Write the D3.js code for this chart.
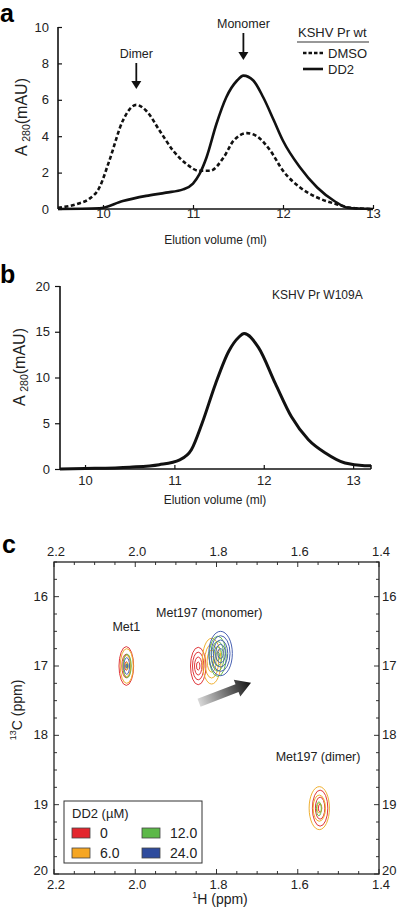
<!DOCTYPE html>
<html><head><meta charset="utf-8">
<script src="https://cdn.jsdelivr.net/npm/d3@7"></script>
<style>
html,body{margin:0;padding:0;background:#fff;}
svg{display:block;font-family:"Liberation Sans",Arial,sans-serif;}
</style></head>
<body>
<svg id="fig" width="400" height="911"></svg>
<script>
// ---------- Panel a data ----------
const volDMSO = [9.5, 9.73, 9.84, 9.96, 10.07, 10.22, 10.37, 10.48, 10.63, 10.78, 10.93, 11.07, 11.19, 11.34, 11.45, 11.6, 11.71, 11.86, 12.0, 12.19, 12.38, 12.57, 12.75, 13.0];
const absDMSO = [0.07, 0.3, 0.53, 1.18, 2.65, 4.85, 5.72, 5.4, 4.3, 3.2, 2.46, 2.1, 2.1, 2.83, 3.75, 4.17, 4.0, 3.2, 2.1, 1.18, 0.63, 0.3, 0.07, 0];
const volDD2 = [9.5, 9.96, 10.22, 10.48, 10.7, 10.89, 11.0, 11.07, 11.15, 11.26, 11.37, 11.49, 11.56, 11.67, 11.78, 11.9, 12.0, 12.19, 12.38, 12.57, 12.72, 13.0];
const absDD2 = [0, 0.04, 0.44, 0.72, 0.9, 1.08, 1.4, 1.9, 2.83, 4.67, 6.14, 7.06, 7.33, 7.06, 6.14, 4.85, 3.75, 2.28, 1.18, 0.44, 0.07, 0];
const xTicksA = [10, 11, 12, 13];
const yTicksA = [0, 2, 4, 6, 8, 10];
const legendA = ["DMSO", "DD2"];

// ---------- Panel b data ----------
const volW109A = [9.72, 10.0, 10.5, 10.83, 11.06, 11.19, 11.31, 11.46, 11.61, 11.72, 11.78, 11.94, 12.13, 12.31, 12.5, 12.69, 12.91, 13.13, 13.2];
const absW109A = [0, 0.05, 0.2, 0.47, 1.0, 2.1, 5.0, 9.3, 12.9, 14.4, 14.8, 13.3, 9.33, 5.7, 3.2, 1.75, 0.65, 0.36, 0.35];
const xTicksB = [10, 11, 12, 13];
const yTicksB = [0, 5, 10, 15, 20];

// ---------- Panel c data ----------
const concentrations = ["0", "6.0", "12.0", "24.0"];
const concColors = ["#e3262d", "#f5a623", "#5cb848", "#2e4b9d"];
const contourColors = ["#e0383c", "#f0b030", "#6cbd4f", "#4a63b3"];
const peakConcIdx = [0, 1, 2, 3, 0, 1, 2, 3, 0, 1, 2];
const peakH = [2.022, 2.021, 2.020, 2.021, 1.845, 1.812, 1.797, 1.790, 1.545, 1.547, 1.548];
const peakC = [17.0, 17.0, 17.0, 17.0, 17.0, 16.93, 16.86, 16.82, 19.05, 19.05, 19.06];
const peakWH = [0.018, 0.016, 0.010, 0.007, 0.019, 0.023, 0.021, 0.029, 0.019, 0.025, 0.006];
const peakWC = [0.28, 0.25, 0.17, 0.12, 0.27, 0.33, 0.29, 0.32, 0.26, 0.31, 0.10];
const peakLevels = [3, 3, 2, 2, 4, 4, 4, 5, 3, 3, 1];
const peakLabels = ["Met1", "Met197 (monomer)", "Met197 (dimer)"];
const peakLabelH = [2.022, 1.818, 1.55];
const peakLabelC = [16.5, 16.29, 18.37];
const arrowFrom = [1.843, 17.53];
const arrowTo = [1.715, 17.24];
const xTicksC = [2.2, 2.0, 1.8, 1.6, 1.4];
const yTicksC = [16, 17, 18, 19, 20];

const svg = d3.select("#fig");
const FONT = 13;

function panelLabel(t, x, y) {
  svg.append("text").attr("x", x).attr("y", y).attr("font-size", 25)
    .attr("font-weight", "bold").text(t);
}
function yTitle(x, y) {
  const t = svg.append("text").attr("transform", `translate(${x},${y}) rotate(-90)`)
    .attr("text-anchor", "middle").attr("font-size", 16).attr("fill", "#222");
  t.append("tspan").text("A ");
  t.append("tspan").attr("font-size", 10.5).attr("dy", 3).text("280");
  t.append("tspan").attr("dy", -3).text("(mAU)");
}
function styleAxes(gs) {
  gs.forEach(g => {
    g.select(".domain").attr("stroke-width", 1.6).attr("stroke", "#111");
    g.selectAll(".tick line").attr("stroke-width", 1.2).attr("stroke", "#111");
    g.selectAll("text").attr("font-size", FONT).attr("font-family", "Liberation Sans, Arial").attr("fill", "#222");
  });
}

// =============== Panel a ===============
{
  const x = d3.scaleLinear().domain([9.5, 13]).range([58, 373]);
  const y = d3.scaleLinear().domain([0, 10]).range([209, 27]);
  const gx = svg.append("g").attr("transform", "translate(0,209)")
    .call(d3.axisBottom(x).tickValues(xTicksA).tickSize(-4).tickPadding(0).tickFormat(d3.format("d")));
  const gy = svg.append("g").attr("transform", "translate(58,0)")
    .call(d3.axisLeft(y).tickValues(yTicksA).tickSize(-4).tickPadding(9).tickFormat(d3.format("d")));
  styleAxes([gx, gy]);
  gx.select(".domain").attr("d", "M58,0H373");
  gy.select(".domain").attr("d", "M0,209V27");

  const line = d3.line().x(d => x(d[0])).y(d => y(d[1])).curve(d3.curveMonotoneX);
  svg.append("path").datum(d3.zip(volDMSO, absDMSO)).attr("d", line)
    .attr("fill", "none").attr("stroke", "#111").attr("stroke-width", 2.6).attr("stroke-dasharray", "4,2.5");
  svg.append("path").datum(d3.zip(volDD2, absDD2)).attr("d", line)
    .attr("fill", "none").attr("stroke", "#111").attr("stroke-width", 2.6);

  svg.append("text").attr("x", (58 + 373) / 2).attr("y", 244).attr("text-anchor", "middle")
    .attr("font-size", 12).attr("fill", "#222").text("Elution volume (ml)");
  yTitle(27, 117);

  const ann = [{t: "Dimer", v: 10.37, ty: 58, a0: 63, a1: 89}, {t: "Monomer", v: 11.56, ty: 28, a0: 33, a1: 60}];
  ann.forEach(a => {
    const cx = x(a.v);
    svg.append("text").attr("x", cx).attr("y", a.ty).attr("text-anchor", "middle")
      .attr("font-size", 12.5).attr("fill", "#222").text(a.t);
    svg.append("line").attr("x1", cx).attr("x2", cx).attr("y1", a.a0).attr("y2", a.a1 - 6)
      .attr("stroke", "#111").attr("stroke-width", 1.8);
    svg.append("path").attr("d", `M${cx - 5},${a.a1 - 8}L${cx + 5},${a.a1 - 8}L${cx},${a.a1}Z`).attr("fill", "#111");
  });

  svg.append("text").attr("x", 298).attr("y", 37).attr("font-size", 13).attr("fill", "#222").text("KSHV Pr wt");
  svg.append("line").attr("x1", 297).attr("x2", 369).attr("y1", 42).attr("y2", 42).attr("stroke", "#333").attr("stroke-width", 1.2);
  legendA.forEach((name, i) => {
    const yy = 53 + i * 16;
    svg.append("line").attr("x1", 303).attr("x2", 323).attr("y1", yy).attr("y2", yy)
      .attr("stroke", "#111").attr("stroke-width", 2.6).attr("stroke-dasharray", i === 0 ? "3.5,2" : null);
    svg.append("text").attr("x", 328).attr("y", yy + 4.5).attr("font-size", 13).attr("fill", "#222").text(name);
  });
  panelLabel("a", 0, 22);
}

// =============== Panel b ===============
{
  const x = d3.scaleLinear().domain([9.72, 13.2]).range([60, 371]);
  const y = d3.scaleLinear().domain([0, 20]).range([469, 286]);
  const gx = svg.append("g").attr("transform", "translate(0,469)")
    .call(d3.axisBottom(x).tickValues(xTicksB).tickSize(-4).tickPadding(7).tickFormat(d3.format("d")));
  const gy = svg.append("g").attr("transform", "translate(60,0)")
    .call(d3.axisLeft(y).tickValues(yTicksB).tickSize(5).tickPadding(5).tickFormat(d3.format("d")));
  styleAxes([gx, gy]);
  gx.select(".domain").attr("d", "M60,0H371");
  gy.select(".domain").attr("d", "M0,469V286");

  const line = d3.line().x(d => x(d[0])).y(d => y(d[1])).curve(d3.curveMonotoneX);
  svg.append("path").datum(d3.zip(volW109A, absW109A)).attr("d", line)
    .attr("fill", "none").attr("stroke", "#111").attr("stroke-width", 3);
  svg.append("line").attr("x1", x(13.2)).attr("x2", x(13.2)).attr("y1", 465).attr("y2", 469)
    .attr("stroke", "#111").attr("stroke-width", 1.5);

  svg.append("text").attr("x", 215).attr("y", 504).attr("text-anchor", "middle")
    .attr("font-size", 12).attr("fill", "#222").text("Elution volume (ml)");
  svg.append("text").attr("x", 272).attr("y", 299).attr("font-size", 12).attr("fill", "#222").text("KSHV Pr W109A");
  yTitle(25, 367);
  panelLabel("b", 0, 283);
}

// =============== Panel c ===============
{
  const L = 54, R = 379, T = 562, B = 874;
  const x = d3.scaleLinear().domain([2.2, 1.4]).range([L, R]);
  const y = d3.scaleLinear().domain([15.5, 20]).range([T, B]);
  const fmt = d3.format(".1f");

  const minorX = d3.range(0, 17).map(i => 2.2 - i * 0.05);
  const minorY = d3.range(0, 19).map(i => 15.5 + i * 0.25);
  const tg = svg.append("g").attr("stroke", "#333");
  minorX.forEach(v => {
    const major = xTicksC.some(t => Math.abs(t - v) < 1e-6);
    const len = major ? 5 : 3;
    tg.append("line").attr("x1", x(v)).attr("x2", x(v)).attr("y1", T).attr("y2", T + len).attr("stroke-width", 1);
    tg.append("line").attr("x1", x(v)).attr("x2", x(v)).attr("y1", B).attr("y2", B - len).attr("stroke-width", 1);
  });
  minorY.forEach(v => {
    const major = yTicksC.some(t => Math.abs(t - v) < 1e-6);
    const len = major ? 5 : 3;
    tg.append("line").attr("x1", L).attr("x2", L + len).attr("y1", y(v)).attr("y2", y(v)).attr("stroke-width", 1);
    tg.append("line").attr("x1", R).attr("x2", R - len).attr("y1", y(v)).attr("y2", y(v)).attr("stroke-width", 1);
  });
  svg.append("rect").attr("x", L).attr("y", T).attr("width", R - L).attr("height", B - T)
    .attr("fill", "none").attr("stroke", "#222").attr("stroke-width", 1.3);

  xTicksC.forEach(v => {
    svg.append("text").attr("x", x(v) + 2).attr("y", T - 6).attr("text-anchor", "middle").attr("font-size", FONT).attr("fill", "#222").text(fmt(v));
    svg.append("text").attr("x", x(v) + 2).attr("y", B + 15).attr("text-anchor", "middle").attr("font-size", FONT).attr("fill", "#222").text(fmt(v));
  });
  yTicksC.forEach(v => {
    const dy = v === 20 ? 0.5 : 4;
    svg.append("text").attr("x", L - 6).attr("y", y(v) + dy).attr("text-anchor", "end").attr("font-size", FONT).attr("fill", "#222").text(v);
    svg.append("text").attr("x", R + 3).attr("y", y(v) + dy).attr("text-anchor", "start").attr("font-size", FONT).attr("fill", "#222").text(v);
  });

  const xt = svg.append("text").attr("x", 220).attr("y", 904).attr("text-anchor", "middle").attr("font-size", 14).attr("fill", "#222");
  xt.append("tspan").attr("font-size", 9).attr("dy", -6).text("1");
  xt.append("tspan").attr("dy", 6).text("H (ppm)");
  const yt = svg.append("text").attr("transform", "translate(22,710) rotate(-90)").attr("text-anchor", "middle").attr("font-size", 14).attr("fill", "#222");
  yt.append("tspan").attr("font-size", 9).attr("dy", -6).text("13");
  yt.append("tspan").attr("dy", 6).text("C (ppm)");

  const cg = svg.append("g").attr("fill", "none");
  peakH.forEach((h, i) => {
    const n = peakLevels[i];
    for (let k = 0; k < n; k++) {
      const s = n === 1 ? 1 : 1 - k * (0.78 / (n - 1));
      const rx = Math.abs(x(h + peakWH[i] * s) - x(h));
      const ry = Math.abs(y(peakC[i] + peakWC[i] * s) - y(peakC[i]));
      cg.append("ellipse").attr("cx", x(h)).attr("cy", y(peakC[i])).attr("rx", Math.max(rx, 0.8)).attr("ry", Math.max(ry, 1.5))
        .attr("stroke", contourColors[peakConcIdx[i]]).attr("stroke-width", 1);
    }
  });

  peakLabels.forEach((t, i) => {
    svg.append("text").attr("x", x(peakLabelH[i])).attr("y", y(peakLabelC[i])).attr("text-anchor", "middle")
      .attr("font-size", 12.5).attr("fill", "#222").text(t);
  });

  const x0 = x(arrowFrom[0]), y0 = y(arrowFrom[1]), x1 = x(arrowTo[0]), y1 = y(arrowTo[1]);
  const defs = svg.append("defs");
  const grad = defs.append("linearGradient").attr("id", "ag").attr("gradientUnits", "userSpaceOnUse")
    .attr("x1", x0).attr("y1", y0).attr("x2", x1).attr("y2", y1);
  grad.append("stop").attr("offset", "0%").attr("stop-color", "#d8d8d8");
  grad.append("stop").attr("offset", "100%").attr("stop-color", "#111");
  const ang = Math.atan2(y1 - y0, x1 - x0);
  const len = Math.hypot(x1 - x0, y1 - y0);
  const sw = 4.2, hw = 9, hl = 15;
  const pts = [[0, -sw], [len - hl, -sw], [len - hl, -hw], [len, 0], [len - hl, hw], [len - hl, sw], [0, sw]]
    .map(([u, v]) => [x0 + u * Math.cos(ang) - v * Math.sin(ang), y0 + u * Math.sin(ang) + v * Math.cos(ang)]);
  svg.append("path").attr("d", "M" + pts.map(p => p.join(",")).join("L") + "Z").attr("fill", "url(#ag)");

  svg.append("rect").attr("x", 64).attr("y", 801).attr("width", 138).attr("height", 62)
    .attr("fill", "#fff").attr("stroke", "#333").attr("stroke-width", 1);
  svg.append("text").attr("x", 72).attr("y", 818).attr("font-size", 13).attr("fill", "#222").text("DD2 (\u00b5M)");
  concentrations.forEach((c, i) => {
    const col = Math.floor(i / 2), row = i % 2;
    const sx = 72 + col * 70, sy = 828 + row * 20;
    svg.append("rect").attr("x", sx).attr("y", sy).attr("width", 18).attr("height", 10)
      .attr("fill", concColors[i]).attr("stroke", "#444").attr("stroke-width", 0.8);
    svg.append("text").attr("x", sx + 28).attr("y", sy + 9.5).attr("font-size", 14).attr("fill", "#222").text(c);
  });
  panelLabel("c", 2, 553);
}
</script>
</body></html>
